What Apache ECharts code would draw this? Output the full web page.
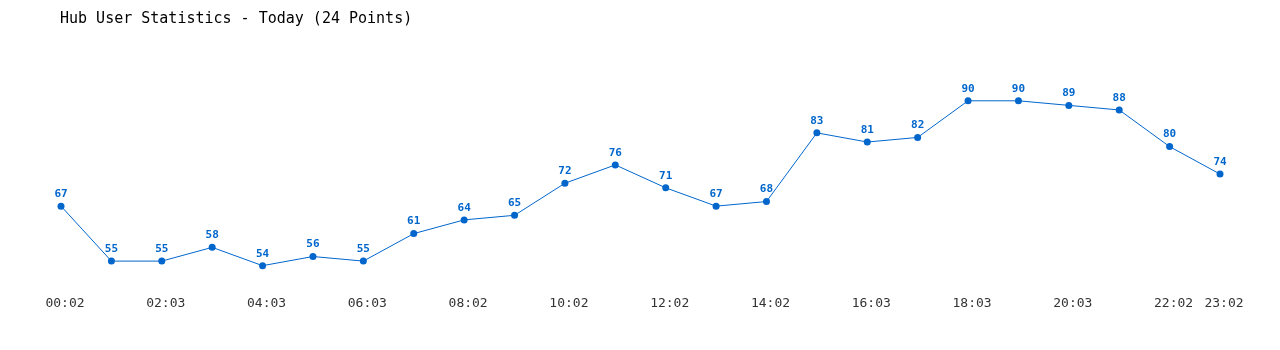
<!DOCTYPE html>
<html><head><meta charset="utf-8">
<script src="https://cdn.jsdelivr.net/npm/echarts@6/dist/echarts.min.js"></script>
<style>html,body{margin:0;padding:0;background:#fff}#c{width:1280px;height:350px}</style>
</head><body><div id="c"></div>
<script>
const titleText = 'Hub User Statistics - Today (24 Points)';
const categories = ['00:02','01:02','02:03','03:03','04:03','05:03','06:03','07:02','08:02','09:02','10:02','11:02','12:02','13:02','14:02','15:03','16:03','17:03','18:03','19:03','20:03','21:02','22:02','23:02'];
const users = [67,55,55,58,54,56,55,61,64,65,72,76,71,67,68,83,81,82,90,90,89,88,80,74];

const chart = echarts.init(document.getElementById('c'));
chart.setOption({
  animation: false,
  title: {
    text: titleText, left: 55, top: 7,
    textStyle: {fontFamily: 'DejaVu Sans Mono', fontSize: 15, fontWeight: 'normal', color: '#000'}
  },
  grid: {left: 61, right: 60, top: 55, bottom: 66},
  xAxis: {
    type: 'category', data: categories, boundaryGap: false,
    axisLine: {show: false}, axisTick: {show: false},
    axisLabel: {
      interval: (i) => i % 2 === 0 || i === categories.length - 1,
      fontFamily: 'DejaVu Sans Mono', fontSize: 13, color: '#333', margin: 13,
      padding: [0, 0, 0, 8]
    }
  },
  yAxis: {
    type: 'value', min: 50, max: 100,
    axisLine: {show: false}, axisTick: {show: false}, axisLabel: {show: false}, splitLine: {show: false}
  },
  series: [{
    type: 'line', data: users,
    symbol: 'circle', symbolSize: 7,
    lineStyle: {color: '#0066cc', width: 1},
    itemStyle: {color: '#0066cc'},
    label: {show: true, position: 'top', distance: 3, color: '#0066cc', fontFamily: 'DejaVu Sans Mono', fontWeight: 'bold', fontSize: 11}
  }]
});
</script></body></html>
